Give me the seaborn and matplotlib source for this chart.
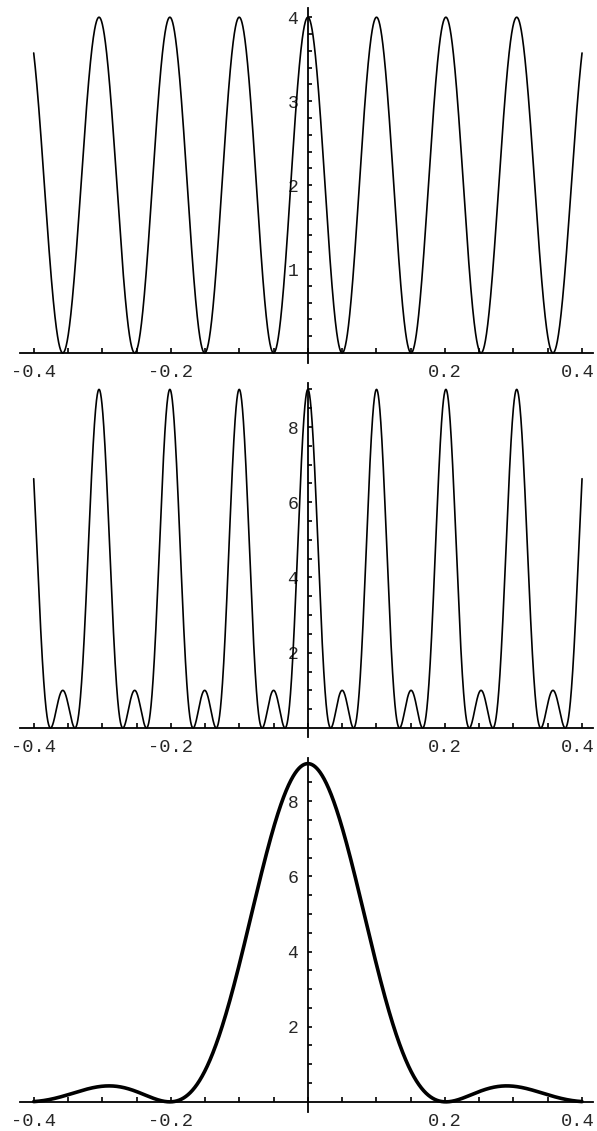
import numpy as np
import pandas as pd
import seaborn as sns
import matplotlib
matplotlib.use("Agg")
import matplotlib.pyplot as plt
import matplotlib.transforms as mtransforms
from matplotlib.ticker import FixedLocator, FixedFormatter

# ---- data parameters ----
theta_min, theta_max = -0.4, 0.4       # plotted angle range
spacing_over_lambda = 10               # slit spacing / wavelength (peaks at sin(theta)=0.1 n)
slit_width_over_lambda = 5             # slit width / wavelength (envelope zeros at sin(theta)=0.2)
n_slits_top = 2
n_slits_mid = 3
envelope_peak = 9

x_ticks_labeled = [-0.4, -0.2, 0.2, 0.4]
x_tick_labels = ["-0.4", "-0.2", "0.2", "0.4"]
x_minor = [-0.4, -0.35, -0.3, -0.25, -0.2, -0.15, -0.1, -0.05, 0.0,
           0.05, 0.1, 0.15, 0.2, 0.25, 0.3, 0.35, 0.4]
y_top_labeled = [1, 2, 3, 4]
y_top_minor = [0.2 * i for i in range(1, 21)]
y_big_labeled = [2, 4, 6, 8]
y_big_minor = [0.5 * i for i in range(1, 19)]

theta = np.linspace(theta_min, theta_max, 4001)
u = np.pi * spacing_over_lambda * np.sin(theta)


def grating(n, u):
    num = np.sin(n * u)
    den = np.sin(u)
    out = np.empty_like(u)
    small = np.abs(den) < 1e-9
    out[~small] = (num[~small] / den[~small]) ** 2
    out[small] = n ** 2
    return out


top_vals = grating(n_slits_top, u)
mid_vals = grating(n_slits_mid, u)
beta = np.pi * slit_width_over_lambda * np.sin(theta)
bot_vals = envelope_peak * np.sinc(beta / np.pi) ** 2

df = pd.DataFrame({"theta": theta, "top": top_vals, "mid": mid_vals, "bot": bot_vals})

sns.set_style("white")
plt.rcParams["font.family"] = ["Liberation Mono", "DejaVu Sans Mono"]
plt.rcParams["axes.unicode_minus"] = False

W, H = 597, 1131
fig = plt.figure(figsize=(W / 100, H / 100), dpi=100)


def make_axes(top_px, bot_px):
    x0 = 20 / W
    w = 573 / W
    b = (H - bot_px) / H
    h = (bot_px - top_px) / H
    return fig.add_axes([x0, b, w, h])


panels = [
    ("top", 8, 363, (-0.12, 4.11), y_top_labeled, y_top_minor, 1.2),
    ("mid", 383, 737, (-0.24, 9.17), y_big_labeled, y_big_minor, 1.2),
    ("bot", 758, 1112, (-0.27, 9.15), y_big_labeled, y_big_minor, 2.6),
]

shift_left = mtransforms.ScaledTranslation(-4 / 100, 0, fig.dpi_scale_trans)

for col, tp, bp, ylim, ylab, yminor, lw in panels:
    ax = make_axes(tp, bp)
    ax.set_facecolor("white")
    sns.lineplot(data=df, x="theta", y=col, ax=ax, color="black",
                 linewidth=lw, estimator=None, sort=False)
    ax.set_xlim(-0.42, 0.416)
    ax.set_ylim(*ylim)
    ax.set_xlabel("")
    ax.set_ylabel("")
    for s in ["top", "right"]:
        ax.spines[s].set_visible(False)
    ax.spines["left"].set_position(("data", 0))
    ax.spines["bottom"].set_position(("data", 0))
    for s in ["left", "bottom"]:
        ax.spines[s].set_linewidth(1.3)
        ax.spines[s].set_color("black")
    ax.xaxis.set_major_locator(FixedLocator(x_ticks_labeled))
    ax.xaxis.set_major_formatter(FixedFormatter(x_tick_labels))
    ax.xaxis.set_minor_locator(FixedLocator(x_minor))
    ax.yaxis.set_major_locator(FixedLocator(ylab))
    ax.yaxis.set_major_formatter(FixedFormatter([str(v) for v in ylab]))
    ax.yaxis.set_minor_locator(FixedLocator(yminor))
    ax.tick_params(axis="x", which="both", direction="in", length=3.5,
                   width=1.2, color="black", labelsize=13.5, pad=8)
    ax.tick_params(axis="y", which="both", direction="in", length=3,
                   width=1.2, color="black", labelsize=13, pad=7)
    ax.tick_params(which="both", bottom=True, left=True)
    last = ax.xaxis.get_major_ticks()[-1]
    last.label1.set_transform(last.label1.get_transform() + shift_left)

fig.savefig("out.png", dpi=100, facecolor="white")
